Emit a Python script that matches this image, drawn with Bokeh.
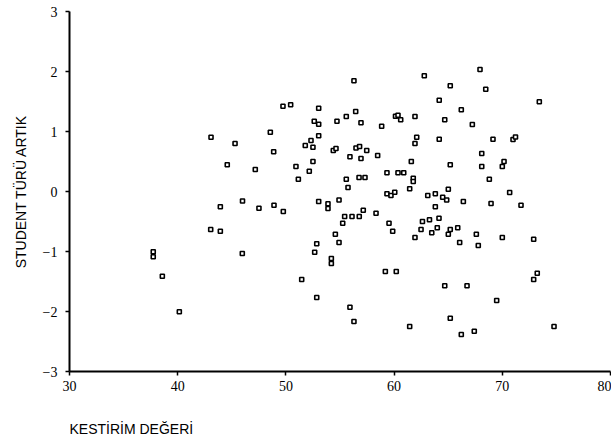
from bokeh.plotting import figure
from bokeh.models import FixedTicker, Range1d, Title
from bokeh.embed import file_html
from bokeh.resources import INLINE

# Predicted values (x) and studentized residuals (y)
pred = [43.08, 45.30, 48.56, 44.58, 47.17, 45.99,
        56.29, 62.79, 49.73, 50.44, 53.03, 56.45, 52.62, 53.03, 54.72, 55.58,
        56.94, 58.85, 60.13, 60.36, 60.61, 61.93, 53.03, 52.32, 51.79, 52.50,
        48.87, 54.38, 54.63, 56.48, 56.81, 57.47, 55.92, 56.94, 58.48, 62.09,
        61.93, 52.50, 50.93, 52.16, 51.15, 55.58, 56.76, 57.31, 55.74, 59.34,
        60.36, 60.89, 61.59, 61.77, 61.77, 61.44, 59.34, 59.71, 60.06, 63.11,
        53.03, 54.91,
        47.51, 48.90, 49.76, 53.89, 53.89, 57.15, 58.33, 55.43, 56.11, 56.78,
        55.25, 59.53, 59.87, 62.62, 63.27, 62.49, 61.93, 54.57, 54.91, 52.85,
        52.66, 54.20, 54.20, 59.19, 60.20, 51.46, 52.85, 55.92, 56.29, 61.44,
        43.94, 43.05, 43.94, 37.74, 37.74, 45.97, 38.58, 40.15,
        67.94, 65.19, 68.47, 73.42, 64.17, 66.21, 64.68, 67.23, 64.17, 69.14,
        70.99, 71.22, 68.10, 65.19, 68.10, 70.16, 70.00, 68.80, 65.01, 63.81,
        64.49, 64.86, 66.40, 70.68,
        68.96, 71.73, 63.81, 64.15, 63.99, 63.48, 65.19, 65.88, 65.01, 66.06,
        67.60, 67.78, 70.00, 72.90, 73.23, 72.90, 64.68, 66.74, 69.48, 65.19,
        74.78, 66.21, 67.41]
resid = [0.905, 0.80, 0.988, 0.445, 0.367, -0.158,
         1.845, 1.928, 1.422, 1.445, 1.388, 1.333, 1.172, 1.122, 1.172, 1.25,
         1.145, 1.088, 1.255, 1.27, 1.195, 1.25, 0.928, 0.85, 0.767, 0.738,
         0.662, 0.683, 0.717, 0.725, 0.75, 0.683, 0.578, 0.55, 0.60, 0.905,
         0.80, 0.50, 0.417, 0.338, 0.205, 0.205, 0.233, 0.233, 0.067, 0.312,
         0.312, 0.312, 0.50, 0.222, 0.167, 0.045, -0.038, -0.067, -0.012, -0.067,
         -0.167, -0.142,
         -0.278, -0.228, -0.333, -0.205, -0.283, -0.312, -0.362, -0.417, -0.417, -0.417,
         -0.528, -0.528, -0.662, -0.50, -0.472, -0.633, -0.767, -0.712, -0.85, -0.872,
         -1.012, -1.117, -1.20, -1.333, -1.333, -1.467, -1.767, -1.928, -2.167, -2.25,
         -0.255, -0.633, -0.662, -1.005, -1.088, -1.033, -1.412, -2.005,
         2.033, 1.762, 1.705, 1.495, 1.522, 1.362, 1.195, 1.117, 0.872, 0.872,
         0.867, 0.908, 0.633, 0.445, 0.417, 0.50, 0.417, 0.205, 0.038, -0.038,
         -0.095, -0.142, -0.167, -0.017,
         -0.20, -0.228, -0.255, -0.445, -0.605, -0.688, -0.633, -0.605, -0.712, -0.85,
         -0.712, -0.90, -0.767, -0.795, -1.362, -1.467, -1.572, -1.572, -1.817, -2.112,
         -2.25, -2.383, -2.328]

x_ticks = [30, 40, 50, 60, 70, 80]
y_ticks = [-3, -2, -1, 0, 1, 2, 3]
x_title = "KESTİRİM DEĞERİ"
y_title = "STUDENT TÜRÜ ARTIK"

p = figure(width=611, height=441, output_backend="svg", toolbar_location=None,
           x_range=Range1d(30, 80), y_range=Range1d(-3, 3),
           min_border_left=69, min_border_right=1, min_border_top=11,
           min_border_bottom=70)
p.outline_line_color = None
p.xgrid.visible = False
p.ygrid.visible = False
p.background_fill_color = "white"
p.border_fill_color = "white"

p.scatter(pred, resid, marker="square", size=4, line_width=1.6,
          line_color="black", fill_color="white")

for ax, ticks in ((p.xaxis[0], x_ticks), (p.yaxis[0], y_ticks)):
    ax.ticker = FixedTicker(ticks=ticks)
    ax.minor_tick_line_color = None
    ax.major_tick_in = 0
    ax.major_tick_out = 4
    ax.major_tick_line_width = 1.5
    ax.major_tick_line_color = "black"
    ax.axis_line_width = 2
    ax.axis_line_color = "black"
    ax.major_label_text_font = "Liberation Serif"
    ax.major_label_text_font_size = "14px"
    ax.major_label_text_color = "black"
    ax.axis_label_text_font = "Liberation Sans"
    ax.axis_label_text_font_size = "14px"
    ax.axis_label_text_font_style = "normal"
    ax.axis_label_text_color = "black"

# blank axis label only reserves vertical room so the left-aligned title sits lower
p.xaxis[0].major_label_standoff = 5
p.xaxis[0].axis_label = " "
p.xaxis[0].axis_label_standoff = 6

p.yaxis[0].major_label_standoff = 8
p.yaxis[0].axis_label = y_title
p.yaxis[0].axis_label_standoff = 11

p.add_layout(Title(text=x_title, align="left", text_font="Liberation Sans",
                   text_font_size="14px", text_font_style="normal",
                   text_color="black", standoff=0), "below")

open("out.html", "w").write(file_html(p, INLINE))
